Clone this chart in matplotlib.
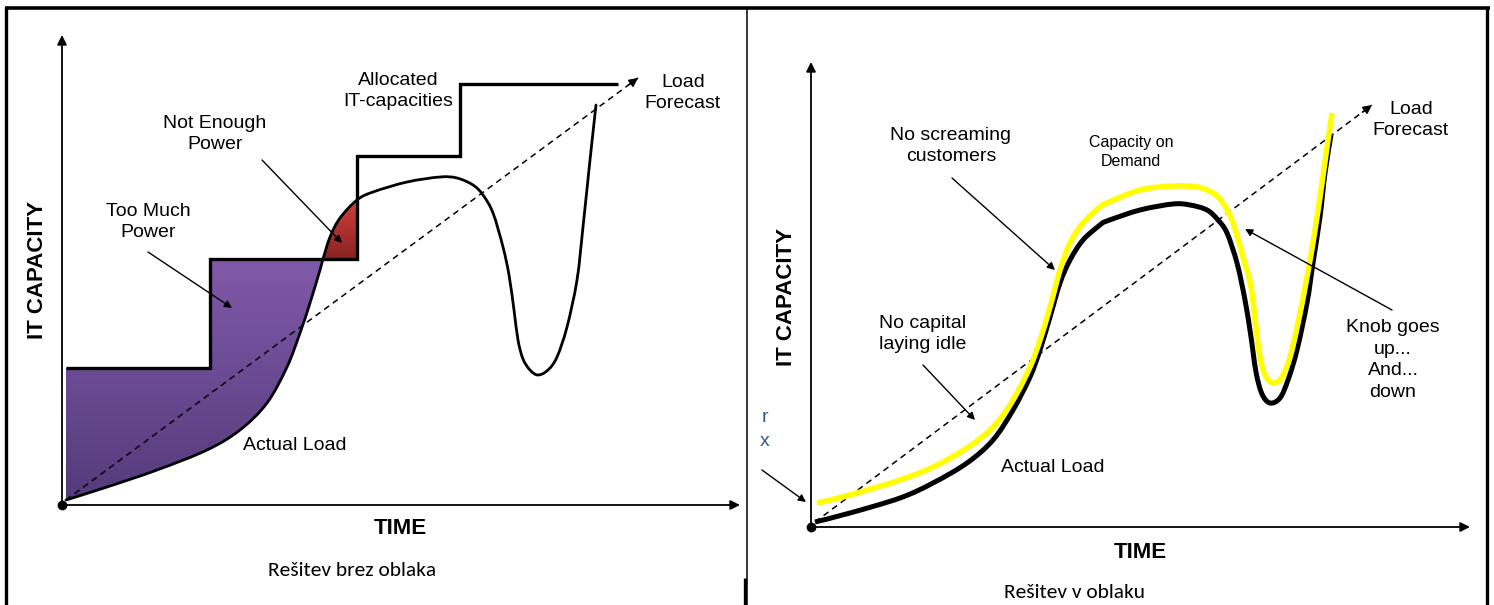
import numpy as np
import matplotlib
matplotlib.use("Agg")
import matplotlib.pyplot as plt
from matplotlib import font_manager
from matplotlib.patches import PathPatch
from matplotlib.path import Path
from matplotlib.lines import Line2D
from matplotlib.colors import LinearSegmentedColormap

# ---------------- data (time, capacity) ----------------
# Left panel: solution without cloud
left_load_t = [4, 45, 95, 145, 178, 205, 225, 238, 248, 258, 261, 268, 278, 295, 311, 345, 378, 395,
               411, 421, 431, 441, 447, 452, 456, 461, 468, 476, 486, 495, 505, 515, 521, 528, 534]
left_load_c = [5, 18, 35, 55, 75, 102, 138, 172, 202, 235, 246, 268, 287, 305, 313, 323, 328, 327,
               320, 310, 292, 258, 230, 195, 165, 146, 135, 130, 135, 148, 178, 225, 278, 345, 400]
step_edges = [4, 148, 295, 398, 556]
step_levels = [137, 246, 349, 421]
left_forecast_t = [4, 576]
left_forecast_c = [5, 427]

# Right panel: solution in cloud
right_load_t = [4, 39, 89, 122, 156, 182, 202, 219, 229, 239, 249, 259, 272, 289, 296, 329, 362, 379,
                396, 407, 416, 426, 434, 440, 445, 451, 459, 469, 477, 486, 496, 502, 509, 514, 520]
right_load_c = [5, 14, 29, 44, 64, 87, 117, 150, 177, 210, 244, 267, 287, 302, 306, 317, 323, 322,
                317, 307, 294, 264, 227, 190, 155, 133, 124, 129, 147, 177, 224, 264, 310, 354, 392]
right_cap_t = [6, 39, 89, 122, 156, 182, 202, 219, 229, 239, 249, 259, 272, 289, 296, 329, 362, 386,
               402, 412, 422, 432, 440, 445, 449, 454, 462, 471, 479, 487, 496, 504, 511, 516, 521]
right_cap_c = [24, 32, 47, 60, 79, 100, 127, 160, 187, 220, 257, 284, 304, 320, 324, 337, 341, 340,
               334, 324, 304, 270, 240, 200, 170, 152, 144, 150, 170, 204, 250, 297, 344, 380, 414]
right_forecast_t = [4, 561]
right_forecast_c = [5, 422]

# ---------------- fonts ----------------
avail = {f.name for f in font_manager.fontManager.ttflist}
LAB = "Liberation Sans" if "Liberation Sans" in avail else "DejaVu Sans"
CAP = "Carlito" if "Carlito" in avail else ("Lato" if "Lato" in avail else "DejaVu Sans")

W, H = 1494, 605
fig = plt.figure(figsize=(W / 100, H / 100), dpi=100)
fig.patch.set_facecolor("white")

axL = fig.add_axes([0, 0, 747 / W, 1])
axL.set_xlim(-62, 685)
axL.set_ylim(-100, 505)
axR = fig.add_axes([747 / W, 0, 747 / W, 1])
axR.set_xlim(-64, 683)
axR.set_ylim(-78, 527)
for ax in (axL, axR):
    ax.axis("off")


def bezier_segments(t, c):
    """Cubic Bezier segments passing through the read points (Catmull-Rom tangents)."""
    P = np.column_stack([t, c]).astype(float)
    n = len(P)
    segs = []
    for i in range(n - 1):
        p0 = P[max(i - 1, 0)]
        p1, p2 = P[i], P[i + 1]
        p3 = P[min(i + 2, n - 1)]
        segs.append((p1, p1 + (p2 - p0) / 6.0, p2 - (p3 - p1) / 6.0, p2))
    return segs


def seg_path(segs, reverse=False):
    verts, codes = [], []
    if reverse:
        segs = [(s[3], s[2], s[1], s[0]) for s in segs[::-1]]
    for s in segs:
        verts += [s[1], s[2], s[3]]
        codes += [Path.CURVE4] * 3
    return segs[0][0], verts, codes


def draw_curve(ax, t, c, **kw):
    start, v, cd = seg_path(bezier_segments(t, c))
    path = Path([start] + v, [Path.MOVETO] + cd)
    ax.add_patch(PathPatch(path, facecolor="none", **kw))


def axes_arrows(ax, xend, yend):
    ap = dict(arrowstyle="-|>", color="black", lw=1.3, mutation_scale=14, shrinkA=0, shrinkB=0)
    ax.annotate("", xy=(0, yend), xytext=(0, 0), arrowprops=ap)
    ax.annotate("", xy=(xend, 0), xytext=(0, 0), arrowprops=ap)
    ax.plot([0], [0], "o", color="black", ms=6, zorder=5)


def forecast(ax, t, c):
    ax.plot(t, c, color="black", lw=1.1, ls=(0, (4, 3)), zorder=3)
    dx, dy = t[1] - t[0], c[1] - c[0]
    n = np.hypot(dx, dy)
    ax.annotate("", xy=(t[1], c[1]), xytext=(t[1] - 12 * dx / n, c[1] - 12 * dy / n),
                arrowprops=dict(arrowstyle="-|>", color="black", lw=1.1, mutation_scale=13,
                                shrinkA=0, shrinkB=0), zorder=3)


def pointer(ax, start, end):
    ax.annotate("", xy=end, xytext=start,
                arrowprops=dict(arrowstyle="-|>", color="black", lw=1.0, mutation_scale=11,
                                shrinkA=0, shrinkB=0), zorder=6)


def gradient_fill(ax, path, top_col, bot_col):
    patch = PathPatch(path, facecolor="none", edgecolor="none")
    ax.add_patch(patch)
    cmap = LinearSegmentedColormap.from_list("g", [bot_col, top_col])
    grad = np.linspace(0, 1, 256).reshape(-1, 1)
    ext = path.get_extents()
    im = ax.imshow(grad, cmap=cmap, origin="lower",
                   extent=[ext.x0, ext.x1, ext.y0, ext.y1],
                   aspect="auto", zorder=1, interpolation="bilinear")
    im.set_clip_path(patch)


# ---------------- left panel ----------------
lt = np.array(left_load_t)
lc = np.array(left_load_c)
segsL = bezier_segments(lt, lc)
k = int(np.argmin(np.abs(lc - step_levels[1])))          # load meets 2nd allocation level
j = int(np.argmin(np.abs(lt - step_edges[2])))           # load at the 2nd step edge

# purple: allocated capacity above actual load
start = [(step_edges[0], step_levels[0])]
lines = [(step_edges[1], step_levels[0]), (step_edges[1], step_levels[1]), (lt[k], step_levels[1])]
_, cv, cc = seg_path(segsL[:k], reverse=True)
verts = start + lines + cv + [start[0]]
codes = [Path.MOVETO] + [Path.LINETO] * 3 + cc + [Path.CLOSEPOLY]
gradient_fill(axL, Path(verts, codes), "#8159AA", "#543B7B")

# red: actual load above allocated capacity
s0, cv, cc = seg_path(segsL[k:j])
verts = [s0] + cv + [(step_edges[2], step_levels[1]), s0]
codes = [Path.MOVETO] + cc + [Path.LINETO, Path.CLOSEPOLY]
gradient_fill(axL, Path(verts, codes), "#D0413C", "#8A2222")

axL.stairs(step_levels, step_edges, baseline=None, color="black", lw=2.4, zorder=4)
draw_curve(axL, lt, lc, edgecolor="black", lw=2.0, zorder=4, capstyle="round")
forecast(axL, left_forecast_t, left_forecast_c)
axes_arrows(axL, 678, 470)

tk = dict(family=LAB, fontsize=14, ha="center", va="center", linespacing=1.3, zorder=7)
axL.text(-24, 235, "IT CAPACITY", rotation=90, family=LAB, fontsize=16, fontweight="bold",
         ha="center", va="center")
axL.text(338, -23, "TIME", family=LAB, fontsize=16, fontweight="bold", ha="center", va="center")
axL.text(290, -65, "Rešitev brez oblaka", family=CAP, fontsize=15.4, ha="center", va="center")
axL.text(336, 414, "Allocated\nIT-capacities", **tk)
axL.text(621, 412, "Load\nForecast", **tk)
axL.text(153, 371, "Not Enough\nPower", **tk)
axL.text(86, 283, "Too Much\nPower", **tk)
axL.text(233, 60, "Actual Load", **tk)
pointer(axL, (200, 345), (280, 262))
pointer(axL, (86, 253), (170, 197))

# ---------------- right panel ----------------
draw_curve(axR, right_load_t, right_load_c, edgecolor="black", lw=3.6, zorder=4, capstyle="butt")
draw_curve(axR, right_cap_t, right_cap_c, edgecolor="#FFFF00", lw=4.0, zorder=5, capstyle="butt")
forecast(axR, right_forecast_t, right_forecast_c)
axes_arrows(axR, 659, 465)

axR.text(-24, 230, "IT CAPACITY", rotation=90, family=LAB, fontsize=16, fontweight="bold",
         ha="center", va="center")
axR.text(329, -26, "TIME", family=LAB, fontsize=16, fontweight="bold", ha="center", va="center")
axR.text(264, -65, "Rešitev v oblaku", family=CAP, fontsize=15.4, ha="center", va="center")
axR.text(140, 381, "No screaming\ncustomers", **tk)
axR.text(320, 375, "Capacity on\nDemand", **{**tk, "fontsize": 11.5})
axR.text(112, 193, "No capital\nlaying idle", **tk)
axR.text(582, 167, "Knob goes\nup...\nAnd...\ndown", **{**tk, "linespacing": 1.35})
axR.text(600, 407, "Load\nForecast", **tk)
axR.text(242, 59, "Actual Load", **tk)
axR.text(-46, 109, "r", family=LAB, fontsize=14, color="#2F5A8A", ha="center", va="center")
axR.text(-46, 85, "x", family=LAB, fontsize=14, color="#2F5A8A", ha="center", va="center")
pointer(axR, (141, 349), (244, 257))
pointer(axR, (112, 162), (164, 107))
pointer(axR, (581, 217), (434, 298))
pointer(axR, (-49, 57), (-5, 25))


# ---------------- frame lines ----------------
def fline(x, y, lw):
    fig.add_artist(Line2D(np.array(x) / W, 1 - np.array(y) / H, color="black", lw=lw,
                          transform=fig.transFigure, solid_capstyle="butt"))


fline([5, 1490], [8, 8], 2.6)
fline([6, 6], [7, 605], 2.4)
fline([1487, 1487], [7, 605], 2.4)
fline([747, 747], [7, 605], 1.1)
fline([745, 745], [578, 605], 2.4)

fig.savefig("out.png", dpi=100, facecolor="white")
